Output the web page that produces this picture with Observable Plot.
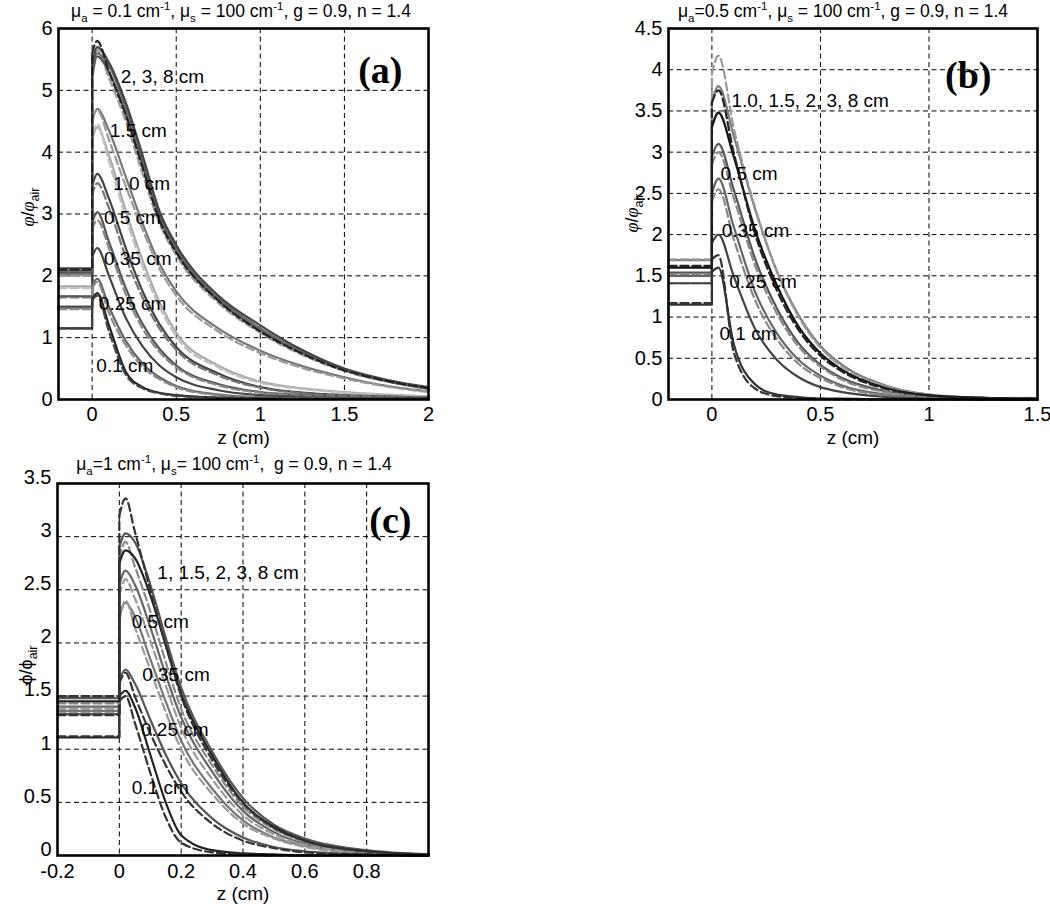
<!DOCTYPE html>
<html>
<head>
<meta charset="utf-8">
<script src="https://cdn.jsdelivr.net/npm/d3@7"></script>
<script src="https://cdn.jsdelivr.net/npm/@observablehq/plot@0.6"></script>
<style>
  body { margin: 0; background: #fff; }
  #wrap { position: relative; width: 1050px; height: 904px; overflow: hidden; font-family: "Liberation Sans", Arial, sans-serif; color: #000; }
  .pnl { position: absolute; }
  .title { position: absolute; transform: translate(-50%, -50%); white-space: nowrap; font-size: 17.5px; line-height: 1; }
  .title sub, .title sup { font-size: 11.5px; line-height: 0; }
  .ylab { position: absolute; transform: translate(-50%, -50%) rotate(-90deg); white-space: nowrap; font-size: 18px; line-height: 1; }
  .ylab sub { font-size: 12.5px; line-height: 0; }
  .ylab i { font-family: "Liberation Serif", serif; }
</style>
</head>
<body>
<div id="wrap">
  <div class="title" style="left:241px;top:12px">μ<sub>a</sub> = 0.1 cm<sup>-1</sup>, μ<sub>s</sub> = 100 cm<sup>-1</sup>, g = 0.9, n = 1.4</div>
  <div class="title" style="left:843px;top:12px">μ<sub>a</sub>=0.5 cm<sup>-1</sup>, μ<sub>s</sub> = 100 cm<sup>-1</sup>, g = 0.9, n = 1.4</div>
  <div class="title" style="left:234px;top:465px">μ<sub>a</sub>=1 cm<sup>-1</sup>, μ<sub>s</sub>= 100 cm<sup>-1</sup>, &nbsp;g = 0.9, n = 1.4</div>
  <div class="ylab" style="left:28px;top:207px"><i>φ</i>/<i>φ</i><sub>air</sub></div>
  <div class="ylab" style="left:632px;top:213px"><i>φ</i>/<i>φ</i><sub>air</sub></div>
  <div class="ylab" style="left:26px;top:665px">ϕ/ϕ<sub>air</sub></div>
  <div id="pa" class="pnl" style="left:0px;top:20px"></div>
  <div id="pb" class="pnl" style="left:610px;top:20px"></div>
  <div id="pc" class="pnl" style="left:0px;top:475px"></div>
</div>
<script>
// ---------- Panel (a): mu_a = 0.1 ----------
// first entry of each curve = level for z < 0 (air side), rest = values at zA
const zA = [0, 0.03, 0.1, 0.2, 0.3, 0.4, 0.5, 0.75, 1, 1.25, 1.5, 1.75, 2];
const aT1s = [2.12, 5.4, 5.7, 5.45, 4.8, 3.95, 3.05, 2.5, 1.68, 1.2, 0.8, 0.5, 0.32, 0.2];
const aT1d = [2.1, 5.6, 5.8, 5.3, 4.6, 3.75, 2.9, 2.38, 1.6, 1.1, 0.74, 0.47, 0.3, 0.18];
const aT2s = [2.08, 5.3, 5.6, 5.4, 4.72, 3.88, 3.0, 2.45, 1.64, 1.15, 0.77, 0.49, 0.31, 0.19];
const aT2d = [2.06, 5.4, 5.65, 5.2, 4.5, 3.65, 2.85, 2.33, 1.56, 1.08, 0.72, 0.46, 0.29, 0.17];
const aT3s = [2.05, 5.2, 5.55, 5.3, 4.62, 3.8, 2.95, 2.4, 1.6, 1.12, 0.75, 0.48, 0.3, 0.18];
const aMs  = [2.02, 4.5, 4.7, 4.35, 3.6, 2.85, 2.2, 1.75, 1.15, 0.79, 0.54, 0.36, 0.22, 0.13];
const aMd  = [2.0, 4.55, 4.68, 4.2, 3.45, 2.75, 2.12, 1.68, 1.1, 0.75, 0.51, 0.34, 0.21, 0.12];
const aLs  = [1.83, 4.2, 4.4, 3.95, 3.05, 2.25, 1.58, 1.08, 0.55, 0.29, 0.18, 0.12, 0.08, 0.05];
const aLd  = [1.8, 4.3, 4.45, 3.85, 2.95, 2.15, 1.5, 1.02, 0.52, 0.27, 0.17, 0.11, 0.07, 0.05];
const aDs  = [1.67, 3.45, 3.65, 3.25, 2.45, 1.75, 1.22, 0.85, 0.42, 0.2, 0.11, 0.07, 0.05, 0.03];
const aDd  = [1.65, 3.3, 3.5, 3.1, 2.3, 1.65, 1.15, 0.8, 0.39, 0.19, 0.1, 0.06, 0.04, 0.03];
const aEs  = [1.5, 2.85, 3.03, 2.55, 1.8, 1.22, 0.82, 0.55, 0.25, 0.12, 0.07, 0.04, 0.03, 0.02];
const aEd  = [1.48, 2.75, 2.9, 2.45, 1.7, 1.15, 0.77, 0.52, 0.23, 0.11, 0.06, 0.04, 0.03, 0.02];
const aFs  = [1.5, 2.3, 2.45, 2.0, 1.32, 0.86, 0.55, 0.36, 0.15, 0.07, 0.04, 0.03, 0.02, 0.02];
const aGs  = [1.48, 1.85, 1.95, 1.5, 0.95, 0.58, 0.36, 0.22, 0.08, 0.04, 0.02, 0.02, 0.01, 0.01];
const aGd  = [1.46, 1.8, 1.9, 1.4, 0.88, 0.53, 0.33, 0.2, 0.07, 0.03, 0.02, 0.01, 0.01, 0.01];
const aHs  = [1.15, 1.62, 1.72, 1.2, 0.45, 0.2, 0.11, 0.07, 0.03, 0.02, 0.01, 0.01, 0.01, 0.01];
const aHd  = [1.15, 1.6, 1.68, 1.1, 0.4, 0.18, 0.1, 0.06, 0.03, 0.02, 0.01, 0.01, 0.01, 0.01];
const aLabels = ["2, 3, 8 cm", "1.5 cm", "1.0 cm", "0.5 cm", "0.35 cm", "0.25 cm", "0.1 cm"];
const aLabelZ = [0.17, 0.105, 0.125, 0.07, 0.07, 0.04, 0.025];
const aLabelV = [5.21, 4.34, 3.48, 2.93, 2.28, 1.54, 0.55];
const aXTicks = [0, 0.5, 1, 1.5, 2];
const aYTicks = [0, 1, 2, 3, 4, 5, 6];

// ---------- Panel (b): mu_a = 0.5 ----------
const zB = [0, 0.03, 0.1, 0.2, 0.3, 0.4, 0.5, 0.6, 0.8, 1.0, 1.25, 1.5];
const bTs = [1.69, 3.6, 3.8, 3.2, 2.3, 1.55, 1.02, 0.65, 0.42, 0.17, 0.06, 0.02, 0.01];
const bTd = [1.7, 3.95, 4.17, 3.3, 2.32, 1.55, 1.0, 0.63, 0.4, 0.16, 0.06, 0.02, 0.01];
const bKs = [1.6, 3.3, 3.48, 2.95, 2.05, 1.38, 0.88, 0.56, 0.36, 0.14, 0.05, 0.02, 0.01];
const bKd = [1.62, 3.6, 3.75, 3.0, 2.0, 1.32, 0.84, 0.53, 0.34, 0.13, 0.05, 0.02, 0.01];
const bEs = [1.54, 2.95, 3.1, 2.55, 1.7, 1.1, 0.68, 0.42, 0.26, 0.1, 0.03, 0.01, 0.0];
const bEd = [1.52, 2.85, 3.0, 2.45, 1.62, 1.04, 0.64, 0.4, 0.24, 0.09, 0.03, 0.01, 0.0];
const bFs = [1.5, 2.5, 2.68, 2.1, 1.3, 0.8, 0.48, 0.29, 0.17, 0.06, 0.02, 0.01, 0];
const bFd = [1.41, 2.4, 2.55, 1.95, 1.2, 0.73, 0.43, 0.26, 0.15, 0.05, 0.02, 0.01, 0];
const bGs = [1.41, 1.9, 2.0, 1.5, 0.85, 0.48, 0.27, 0.15, 0.09, 0.03, 0.01, 0, 0];
const bHs = [1.15, 1.55, 1.6, 0.68, 0.18, 0.06, 0.03, 0.01, 0.01, 0, 0, 0, 0];
const bHd = [1.17, 1.7, 1.75, 0.58, 0.13, 0.04, 0.02, 0.01, 0, 0, 0, 0, 0];
const bLabels = ["1.0, 1.5, 2, 3, 8 cm", "0.5 cm", "0.35 cm", "0.25 cm", "0.1 cm"];
const bLabelZ = [0.09, 0.04, 0.045, 0.08, 0.035];
const bLabelV = [3.62, 2.74, 2.04, 1.43, 0.8];
const bXTicks = [0, 0.5, 1, 1.5];
const bYTicks = [0, 0.5, 1, 1.5, 2, 2.5, 3, 3.5, 4, 4.5];

// ---------- Panel (c): mu_a = 1 ----------
const zC = [0, 0.02, 0.05, 0.1, 0.15, 0.2, 0.3, 0.4, 0.5, 0.6, 0.8, 1.0];
const cTd = [1.5, 3.2, 3.36, 3.05, 2.5, 1.98, 1.5, 0.9, 0.49, 0.26, 0.14, 0.04, 0.01];
const cTs = [1.48, 2.9, 3.03, 2.95, 2.55, 2.05, 1.58, 0.98, 0.54, 0.29, 0.16, 0.05, 0.01];
const cKs = [1.45, 2.75, 2.87, 2.8, 2.45, 1.98, 1.52, 0.94, 0.5, 0.27, 0.14, 0.04, 0.01];
const cKd = [1.43, 2.8, 2.95, 2.72, 2.3, 1.82, 1.38, 0.85, 0.46, 0.25, 0.13, 0.04, 0.01];
const cEs = [1.4, 2.55, 2.68, 2.55, 2.15, 1.7, 1.3, 0.79, 0.42, 0.22, 0.11, 0.03, 0.01];
const cEd = [1.38, 2.45, 2.6, 2.42, 2.02, 1.6, 1.2, 0.72, 0.38, 0.2, 0.1, 0.03, 0.01];
const cFs = [1.36, 2.25, 2.38, 2.25, 1.85, 1.45, 1.08, 0.63, 0.33, 0.17, 0.09, 0.03, 0.01];
const cFd = [1.34, 2.2, 2.4, 2.15, 1.75, 1.35, 1.0, 0.58, 0.3, 0.16, 0.08, 0.02, 0.01];
const cGs = [1.33, 1.65, 1.75, 1.62, 1.28, 0.95, 0.68, 0.35, 0.17, 0.08, 0.04, 0.01, 0];
const cGd = [1.32, 1.62, 1.72, 1.5, 1.15, 0.85, 0.6, 0.3, 0.14, 0.07, 0.03, 0.01, 0];
const cHs = [1.11, 1.5, 1.55, 1.4, 0.95, 0.5, 0.19, 0.05, 0.02, 0.01, 0, 0, 0];
const cHd = [1.12, 1.45, 1.5, 1.25, 0.78, 0.36, 0.12, 0.03, 0.01, 0, 0, 0, 0];
const cLabels = ["1, 1.5, 2, 3, 8 cm", "0.5 cm", "0.35 cm", "0.25 cm", "0.1 cm"];
const cLabelZ = [0.123, 0.04, 0.074, 0.07, 0.04];
const cLabelV = [2.66, 2.2, 1.7, 1.18, 0.64];
const cXTicks = [-0.2, 0, 0.2, 0.4, 0.6, 0.8];
const cYTicks = [0, 0.5, 1, 1.5, 2, 2.5, 3, 3.5];

// ---------- styles (kept apart from the values) ----------
const DASH = "8,4";
const seriesA = [
  [aLs, "#aaaaaa", false], [aLd, "#c0c0c0", true],
  [aMs, "#777777", false], [aMd, "#9a9a9a", true],
  [aDs, "#444444", false], [aDd, "#777777", true],
  [aEs, "#555555", false], [aEd, "#888888", true],
  [aFs, "#444444", false],
  [aGs, "#666666", false], [aGd, "#888888", true],
  [aHs, "#222222", false], [aHd, "#444444", true],
  [aT2d, "#9a9a9a", true], [aT3s, "#555555", false],
  [aT2s, "#666666", false], [aT1s, "#444444", false], [aT1d, "#222222", true]
];
const seriesB = [
  [bTs, "#7a7a7a", false], [bTd, "#9a9a9a", true],
  [bEs, "#555555", false], [bEd, "#888888", true],
  [bFs, "#666666", false], [bFd, "#888888", true],
  [bGs, "#444444", false],
  [bHs, "#333333", false], [bHd, "#333333", true],
  [bKs, "#111111", false], [bKd, "#222222", true]
];
const seriesC = [
  [cFs, "#777777", false], [cFd, "#9a9a9a", true],
  [cEs, "#666666", false], [cEd, "#999999", true],
  [cGs, "#555555", false], [cGd, "#333333", true],
  [cHs, "#222222", false], [cHd, "#333333", true],
  [cKd, "#888888", true], [cTs, "#555555", false],
  [cKs, "#222222", false], [cTd, "#333333", true]
];

function curveMarks(zs, series) {
  const marks = [];
  series.forEach(([arr, color, dashed]) => {
    const lvl = arr[0], vals = arr.slice(1);
    const left = [{z: -0.2, v: lvl}, {z: 0, v: lvl}, {z: 0, v: vals[0]}];
    const right = zs.map((z, i) => ({z, v: vals[i]}));
    const opts = {x: "z", y: "v", stroke: color, strokeWidth: 2.2, strokeDasharray: dashed ? DASH : null};
    marks.push(Plot.line(left, {...opts, curve: "linear"}));
    marks.push(Plot.line(right, {...opts, curve: "monotone-x"}));
  });
  return marks;
}

function panel(cfg) {
  const labels = cfg.labels.map((t, i) => ({t, z: cfg.lz[i], v: cfg.lv[i]}));
  return Plot.plot({
    width: cfg.width, height: cfg.height,
    marginLeft: cfg.ml, marginRight: cfg.mr, marginTop: cfg.mt, marginBottom: cfg.mb,
    style: {fontFamily: "'Liberation Sans', Arial, sans-serif", fontSize: "20px", color: "#000", background: "transparent", overflow: "visible"},
    x: {domain: cfg.xd, label: null},
    y: {domain: cfg.yd, label: null},
    marks: [
      Plot.ruleX(cfg.gx, {stroke: "#000", strokeWidth: 1, strokeDasharray: "5,3.5"}),
      Plot.ruleY(cfg.gy, {stroke: "#000", strokeWidth: 1, strokeDasharray: "5,3.5"}),
      ...curveMarks(cfg.zs, cfg.series),
      Plot.text(labels, {x: "z", y: "v", text: "t", textAnchor: "start", fontSize: 19, fill: "#000"}),
      Plot.frame({stroke: "#000", strokeWidth: 2.6}),
      Plot.axisX(cfg.xt, {tickSize: 0, tickPadding: cfg.xpad, tickFormat: d => String(d), fontSize: 20, label: null}),
      Plot.axisY(cfg.yt, {tickSize: 0, tickPadding: 6, dy: cfg.ydy, tickFormat: d => String(d), fontSize: 20, label: null}),
      Plot.text(["z (cm)"], {frameAnchor: "bottom", dy: cfg.xlabDy, lineAnchor: "middle", fontSize: 19, fill: "#000"}),
      Plot.text([cfg.tag], {frameAnchor: "top-right", dx: cfg.tagDx, dy: cfg.tagDy, textAnchor: "end", lineAnchor: "middle",
        fontFamily: "'Liberation Serif', 'Times New Roman', serif", fontWeight: "bold", fontSize: 38, fill: "#000"})
    ]
  });
}

document.getElementById("pa").append(panel({
  width: 440, height: 440, ml: 58, mr: 12, mt: 8, mb: 61,
  xd: [-0.2, 2], yd: [0, 6], xt: aXTicks, yt: aYTicks,
  gx: [0, 0.5, 1, 1.5], gy: [1, 2, 3, 4, 5], xpad: 7, ydy: 0, xlabDy: 38,
  zs: zA, series: seriesA, labels: aLabels, lz: aLabelZ, lv: aLabelV,
  tag: "(a)", tagDx: -26, tagDy: 42
}));
document.getElementById("pb").append(panel({
  width: 440, height: 440, ml: 58, mr: 13, mt: 8, mb: 61,
  xd: [-0.2, 1.5], yd: [0, 4.5], xt: bXTicks, yt: bYTicks,
  gx: [0, 0.5, 1], gy: [0.5, 1, 1.5, 2, 2.5, 3, 3.5, 4], xpad: 7, ydy: 0, xlabDy: 38,
  zs: zB, series: seriesB, labels: bLabels, lz: bLabelZ, lv: bLabelV,
  tag: "(b)", tagDx: -46, tagDy: 47
}));
document.getElementById("pc").append(panel({
  width: 440, height: 429, ml: 57, mr: 12, mt: 8, mb: 49,
  xd: [-0.2, 1.0], yd: [0, 3.5], xt: cXTicks, yt: cYTicks,
  gx: [0, 0.2, 0.4, 0.6, 0.8], gy: [0.5, 1, 1.5, 2, 2.5, 3], xpad: 8, ydy: -6, xlabDy: 38,
  zs: zC, series: seriesC, labels: cLabels, lz: cLabelZ, lv: cLabelV,
  tag: "(c)", tagDx: -17, tagDy: 37
}));
</script>
</body>
</html>
